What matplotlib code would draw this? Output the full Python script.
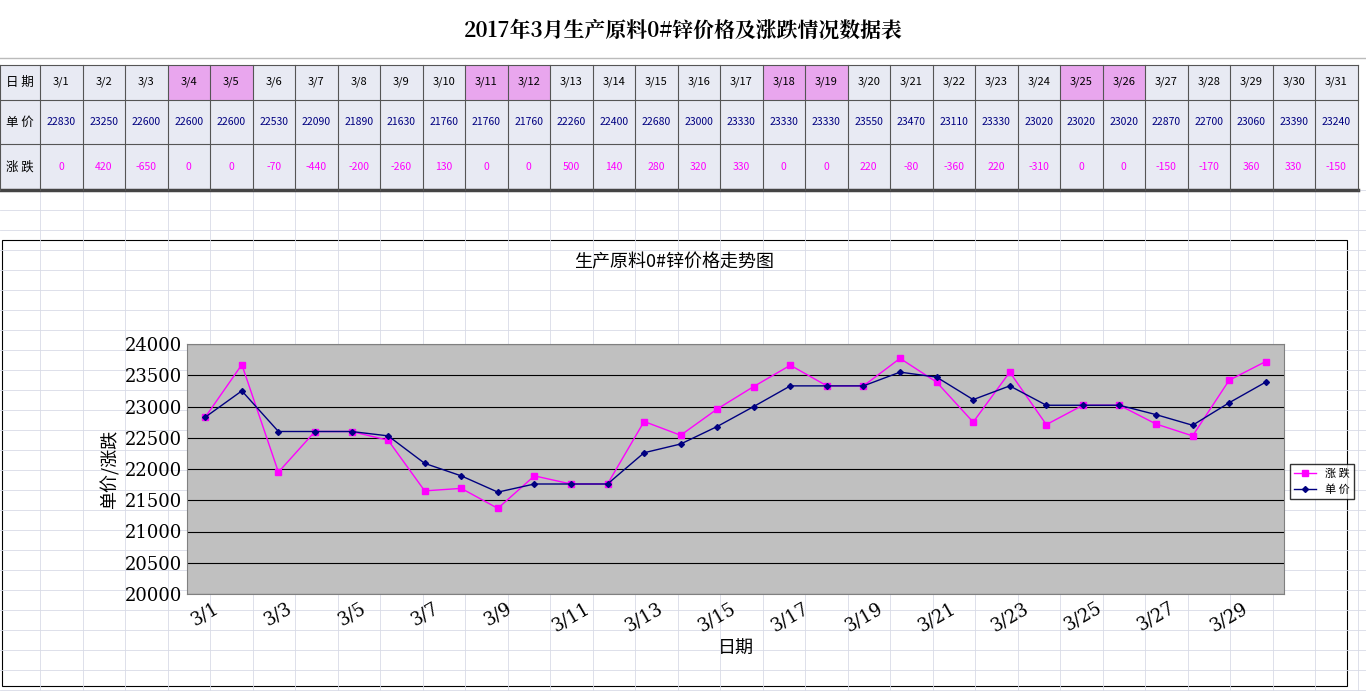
import matplotlib
matplotlib.use("Agg")
import matplotlib.pyplot as plt
from matplotlib.patches import Rectangle

plt.rcParams['font.family'] = ['Noto Sans CJK SC', 'DejaVu Sans']

dates = [f"3/{i}" for i in range(1, 32)]
price = [22830, 23250, 22600, 22600, 22600, 22530, 22090, 21890, 21630, 21760, 21760, 21760,
         22260, 22400, 22680, 23000, 23330, 23330, 23330, 23550, 23470, 23110, 23330, 23020,
         23020, 23020, 22870, 22700, 23060, 23390, 23240]
change = [0, 420, -650, 0, 0, -70, -440, -200, -260, 130, 0, 0, 500, 140, 280, 320, 330, 0, 0,
          220, -80, -360, 220, -310, 0, 0, -150, -170, 360, 330, -150]
weekend = ["3/4", "3/5", "3/11", "3/12", "3/18", "3/19", "3/25", "3/26"]
# chart series (30 days)
chart_dates = dates[:30]
chart_price = price[:30]
chart_pc = [22830, 23670, 21950, 22600, 22600, 22460, 21650, 21690, 21370, 21890, 21760, 21760,
            22760, 22540, 22960, 23320, 23660, 23330, 23330, 23770, 23390, 22750, 23550, 22710,
            23020, 23020, 22720, 22530, 23420, 23720]

W, H = 1366, 691
fig = plt.figure(figsize=(W/100, H/100), dpi=100)
bg = fig.add_axes([0, 0, 1, 1])
bg.set_xlim(0, W); bg.set_ylim(H, 0); bg.axis('off')

# sheet grid
for y in range(190, H, 20):
    bg.plot([0, W], [y, y], color='#d8dbe6', lw=0.6)
x0, cw = 40, 42.5
for i in range(32):
    bg.plot([x0+i*cw]*2, [190, H], color='#d8dbe6', lw=0.6)

bg.text(683, 30, "2017年3月生产原料0#锌价格及涨跌情况数据表", ha='center', va='center',
        fontsize=15, fontweight='bold', family=['Noto Serif CJK SC', 'Noto Sans CJK SC', 'DejaVu Sans'])
bg.plot([0, W], [58, 58], color='#bbbbbb', lw=1)

rows = [(65, 100), (100, 144), (144, 190)]
bg.add_patch(Rectangle((0, 65), 1358, 125, fc='#e8eaf3', ec='none'))
for i, d in enumerate(dates):
    if d in weekend:
        bg.add_patch(Rectangle((x0+i*cw, 65), cw, 35, fc='#e9a6ee', ec='none'))
for y in [65, 100, 144]:
    bg.plot([0, 1358], [y, y], color='#555555', lw=0.8)
bg.plot([0, 1358], [190, 190], color='#444444', lw=2.5)
for i in range(33):
    x = 0 if i == 0 else x0+(i-1)*cw
    bg.plot([x, x], [65, 190], color='#555555', lw=0.8)
labels = ["日 期", "单 价", "涨 跌"]
for (a, b), lab in zip(rows, labels):
    bg.text(20, (a+b)/2, lab, ha='center', va='center', fontsize=9)
for i, d in enumerate(dates):
    cx = x0 + (i+0.5)*cw
    bg.text(cx, 82, d, ha='center', va='center', fontsize=8)
    bg.text(cx, 122, str(price[i]), ha='center', va='center', fontsize=7.5, color='#000080')
    bg.text(cx, 167, str(change[i]), ha='center', va='center', fontsize=7.5, color='#ff00ff')

# chart box
bg.add_patch(Rectangle((2, 240), 1345, 446, fc='white', ec='black', lw=0.8))
bg.text(674, 262, "生产原料0#锌价格走势图", ha='center', va='center', fontsize=13)

ax = fig.add_axes([187/W, 1-594/H, (1284-187)/W, (594-344)/H])
ax.set_facecolor('#c0c0c0')
xs = list(range(len(chart_dates)))
ax.plot(xs, chart_pc, color='#ff00ff', marker='s', ms=4.5, lw=1, label='涨 跌')
ax.plot(xs, chart_price, color='#000080', marker='D', ms=3, lw=1, label='单 价')
ax.set_xlim(-0.5, 29.5)
ax.set_ylim(20000, 24000)
ax.set_yticks(range(20000, 24001, 500))
ax.grid(axis='y', color='black', lw=0.8)
ax.set_xticks(xs[::2])
ax.set_xticklabels(chart_dates[::2], rotation=30, fontsize=13,
                   family=['DejaVu Serif', 'Noto Sans CJK SC'])
for t in ax.get_yticklabels():
    t.set_fontsize(13); t.set_family(['DejaVu Serif'])
ax.tick_params(length=0)
for s in ax.spines.values():
    s.set_color('#808080')
ax.set_ylabel("单价/涨跌", fontsize=13)
ax.set_xlabel("日期", fontsize=13)
leg = ax.legend(loc='center left', bbox_to_anchor=(1.0, 0.45), fontsize=8, frameon=True,
                fancybox=False, edgecolor='black', handlelength=2)
fig.savefig("out.png", dpi=100)
